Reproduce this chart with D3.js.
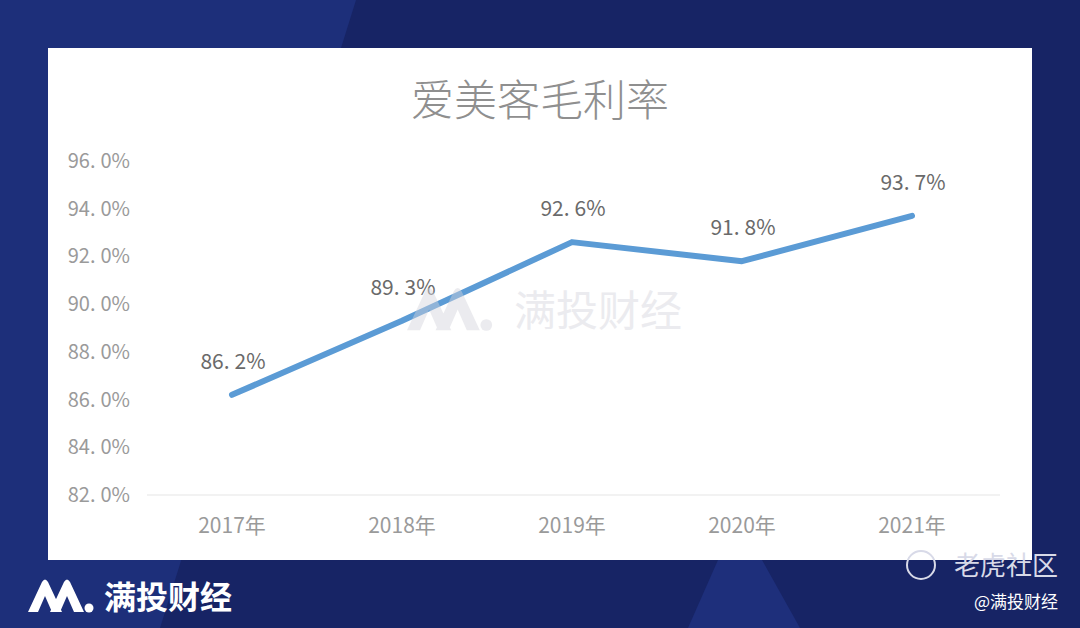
<!DOCTYPE html>
<meta charset="utf-8">
<style>
  body { margin: 0; background: #172465; }
  svg text { font-family: "Noto Sans CJK SC", "Noto Sans", sans-serif; }
</style>
<svg width="1080" height="628"></svg>
<script src="https://d3js.org/d3.v7.min.js"></script>
<script>
  // data
  var years = ["2017年", "2018年", "2019年", "2020年", "2021年"];
  var margin = [86.2, 89.3, 92.6, 91.8, 93.7];
  var yTicks = [82, 84, 86, 88, 90, 92, 94, 96];
  var title = "爱美客毛利率";

  var svg = d3.select("svg"),
      width = +svg.attr("width"),
      height = +svg.attr("height");

  // background
  svg.append("rect").attr("width", width).attr("height", height).attr("fill", "#172465");
  svg.append("path").attr("d", "M0,0L356,0L160,628L0,628Z").attr("fill", "#1d2f7a");
  svg.append("path").attr("d", "M718,560L762,560L800,628L688,628Z").attr("fill", "#1e2f7b");

  // white panel
  svg.append("rect").attr("x", 48).attr("y", 48).attr("width", 984).attr("height", 512).attr("fill", "#fff");

  svg.append("text").attr("x", 540).attr("y", 116).attr("text-anchor", "middle")
    .attr("font-size", 43).attr("font-weight", 300).attr("fill", "#8f8f8f").text(title);

  var x = d3.scaleBand().domain(years).range([147, 997]);
  var y = d3.scaleLinear().domain([82, 96]).range([495, 161]);
  var fmt = d3.format(".1f");

  // writes "96.0%" with the little gap after the dot seen in the picture
  function pct(sel) {
    sel.each(function(d) {
      var s = fmt(d).split(".");
      var t = d3.select(this);
      t.append("tspan").text(s[0] + ".");
      t.append("tspan").attr("dx", 5).text(s[1] + "%");
    });
  }

  // baseline
  svg.append("line").attr("x1", 147).attr("x2", 1000).attr("y1", y(82)).attr("y2", y(82))
    .attr("stroke", "#eeeeee").attr("stroke-width", 1.5);

  // y axis labels
  svg.append("g").selectAll("text").data(yTicks).enter().append("text")
    .attr("x", 130).attr("y", function(d) { return y(d) + 7; })
    .attr("text-anchor", "end").attr("font-size", 20).attr("fill", "#9a9a9a")
    .call(pct);

  // x axis labels
  svg.append("g").selectAll("text").data(years).enter().append("text")
    .attr("x", function(d) { return x(d) + x.bandwidth() / 2; }).attr("y", 533)
    .attr("text-anchor", "middle").attr("font-size", 21).attr("fill", "#9a9a9a")
    .text(function(d) { return d; });

  // line
  var line = d3.line()
    .x(function(d, i) { return x(years[i]) + x.bandwidth() / 2; })
    .y(function(d) { return y(d); });
  svg.append("path").datum(margin).attr("d", line).attr("fill", "none")
    .attr("stroke", "#5b9bd5").attr("stroke-width", 6).attr("stroke-linecap", "round").attr("stroke-linejoin", "round");

  // value labels
  svg.append("g").selectAll("text").data(margin).enter().append("text")
    .attr("x", function(d, i) { return x(years[i]) + x.bandwidth() / 2 + 1; })
    .attr("y", function(d) { return y(d) - 26; })
    .attr("text-anchor", "middle").attr("font-size", 21).attr("fill", "#6a6a6a")
    .call(pct);

  // logo shape: two peaks + dot
  function logo(g, s, color) {
    g.append("path").attr("fill", color)
      .attr("d", "M0,34L14,4Q17,-1,20,4L34,34L24,34L17,18L10,34Z" +
                 "M22,34L36,4Q39,-1,42,4L56,34L46,34L39,18L32,34Z")
      .attr("transform", "scale(" + s + ")");
    g.append("circle").attr("cx", 61 * s).attr("cy", 30 * s).attr("r", 4.5 * s).attr("fill", color);
  }

  // watermark
  var wm = svg.append("g").attr("transform", "translate(407,286)").attr("opacity", 0.45);
  logo(wm, 1.3, "#d4d4dc");
  wm.append("text").attr("x", 107).attr("y", 40).attr("font-size", 42).attr("fill", "#d4d4dc").text("满投财经");

  // footer left
  var fl = svg.append("g").attr("transform", "translate(28,578)");
  logo(fl, 1.0, "#ffffff");
  fl.append("text").attr("x", 76).attr("y", 31).attr("font-size", 32).attr("font-weight", "bold")
    .attr("fill", "#ffffff").text("满投财经");

  // footer right
  svg.append("circle").attr("cx", 921).attr("cy", 565).attr("r", 14).attr("fill", "none")
    .attr("stroke", "#d8dae8").attr("stroke-width", 2);
  svg.append("text").attr("x", 1058).attr("y", 575).attr("text-anchor", "end").attr("font-size", 26)
    .attr("fill", "#d8dae8").text("老虎社区");
  svg.append("text").attr("x", 1058).attr("y", 608).attr("text-anchor", "end").attr("font-size", 17)
    .attr("fill", "#ffffff").text("@满投财经");
</script>
